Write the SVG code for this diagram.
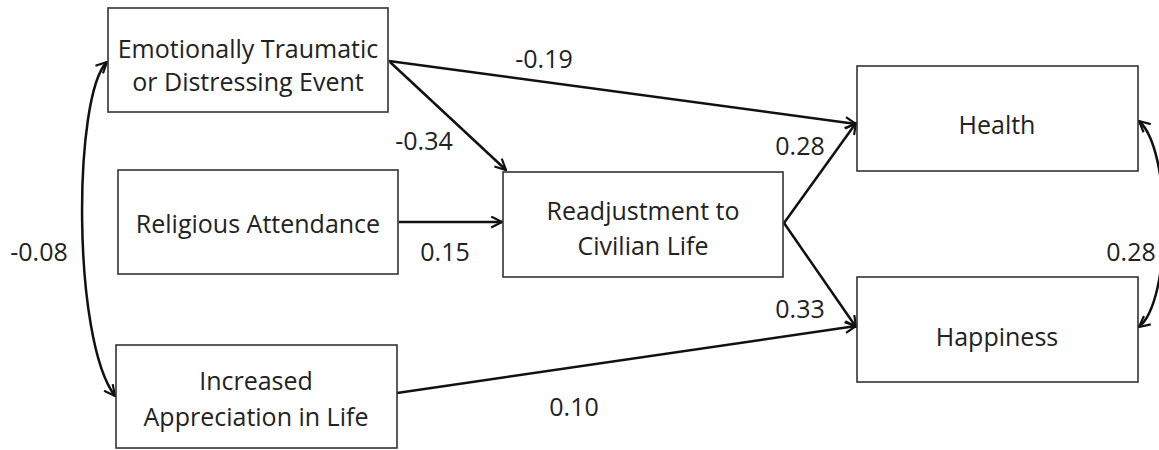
<svg xmlns="http://www.w3.org/2000/svg" width="1159" height="450" viewBox="0 0 1159 450">
<defs>
<style>
.box{fill:#fff;stroke:#333;stroke-width:1.6}
.t{font-family:"Open Sans","Liberation Sans",sans-serif;font-size:25px;fill:#222;text-anchor:middle}
.l{font-family:"Open Sans","Liberation Sans",sans-serif;font-size:25px;fill:#222;text-anchor:middle}
.c{fill:none;stroke:#111;stroke-width:2.5}
</style>
<marker id="ah" viewBox="0 0 12 12" refX="11" refY="6" markerWidth="13" markerHeight="13" markerUnits="userSpaceOnUse" orient="auto-start-reverse">
<path d="M1,1 L11,6 L1,11" fill="none" stroke="#111" stroke-width="2"/>
</marker>
</defs>
<rect width="1159" height="450" fill="#fff"/>
<g id="connectors">
<path class="c" d="M389,61 L856,124" marker-end="url(#ah)"/>
<path class="c" d="M390,62 L506,170" marker-end="url(#ah)"/>
<path class="c" d="M399,222 L502,222" marker-end="url(#ah)"/>
<path class="c" d="M784,223 L856,123" marker-end="url(#ah)"/>
<path class="c" d="M784,223 L856,327" marker-end="url(#ah)"/>
<path class="c" d="M397,393 L856,326" marker-end="url(#ah)"/>
<path class="c" d="M107,62 C 73,95 72,340 115,396" marker-start="url(#ah)" marker-end="url(#ah)"/>
<path class="c" d="M1139,121 C 1172,150 1172,300 1139,327" marker-start="url(#ah)" marker-end="url(#ah)"/>
</g>
<g id="labels">
<text class="l" x="544" y="68">-0.19</text>
<text class="l" x="424" y="150">-0.34</text>
<text class="l" x="800" y="155">0.28</text>
<text class="l" x="445" y="261">0.15</text>
<text class="l" x="800" y="318">0.33</text>
<text class="l" x="574" y="416">0.10</text>
<text class="l" x="39" y="261">-0.08</text>
<text class="l" x="1131" y="261">0.28</text>
</g>
<g id="n-event">
<rect class="box" x="108" y="8" width="280" height="104"/>
<text class="t" x="248" y="58">Emotionally Traumatic</text>
<text class="t" x="248" y="91">or Distressing Event</text>
</g>
<g id="n-religious">
<rect class="box" x="118" y="170" width="280" height="104"/>
<text class="t" x="258" y="233">Religious Attendance</text>
</g>
<g id="n-appreciation">
<rect class="box" x="116" y="345" width="281" height="103"/>
<text class="t" x="256" y="390">Increased</text>
<text class="t" x="256" y="426">Appreciation in Life</text>
</g>
<g id="n-readjust">
<rect class="box" x="503" y="172" width="280" height="105"/>
<text class="t" x="643" y="220">Readjustment to</text>
<text class="t" x="643" y="255">Civilian Life</text>
</g>
<g id="n-health">
<rect class="box" x="857" y="66" width="281" height="105"/>
<text class="t" x="997" y="134">Health</text>
</g>
<g id="n-happiness">
<rect class="box" x="857" y="277" width="281" height="105"/>
<text class="t" x="997" y="346">Happiness</text>
</g>
</svg>
